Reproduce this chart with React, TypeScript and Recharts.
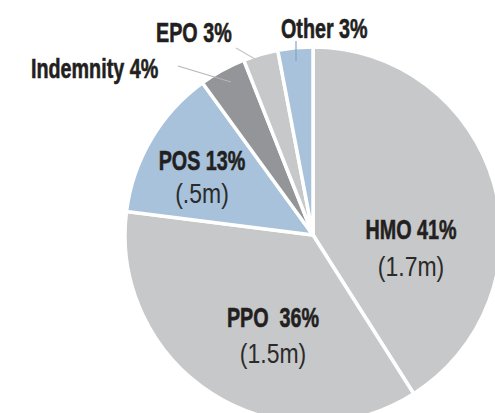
import React from 'react';
import { PieChart, Pie, Cell } from 'recharts';

const categories = ['HMO', 'PPO', 'POS', 'Indemnity', 'EPO', 'Other'];
const shares = [41, 36, 13, 4, 3, 3];
const members = ['1.7', '1.5', '.5', '', '', ''];
const titleSeparators = [' ', '  ', ' ', ' ', ' ', ' '];

const COLORS = ['#c7c8ca', '#c7c8ca', '#a7c2da', '#939598', '#c7c8ca', '#a7c2da'];

const data = categories.map((name, i) => ({
  name,
  value: shares[i],
  members: members[i],
  sep: titleSeparators[i],
}));

// label placement relative to pie centre (px)
type Layout = {
  dx: number;
  dy1: number;
  dy2: number;
  anchor: 'start' | 'middle' | 'end';
  line?: [number, number, number, number];
  lineColor?: string;
};
const LAYOUT: Layout[] = [
  { dx: 98, dy1: 4, dy2: 41, anchor: 'middle' },
  { dx: -40, dy1: 92, dy2: 128, anchor: 'middle' },
  { dx: -111, dy1: -65, dy2: -32, anchor: 'middle' },
  { dx: -282, dy1: -157, dy2: 0, anchor: 'start', line: [-135, -169, -82, -153], lineColor: '#b5b6b8' },
  { dx: -157, dy1: -193, dy2: 0, anchor: 'start', line: [-77, -187, -58, -176], lineColor: '#c4c5c7' },
  { dx: -32, dy1: -197, dy2: 0, anchor: 'start', line: [-17, -194, -17, -174], lineColor: '#7fa6c6' },
];

const FONT = '"Liberation Sans", Arial, sans-serif';
const FONT_SIZE = 28;
const BOLD_SCALE = 0.705;
const REG_SCALE = 0.82;

const renderLabel = (props: any) => {
  const { cx, cy, index, payload } = props;
  const lay = LAYOUT[index];
  const p = payload && payload.payload ? payload.payload : payload;
  const name = p?.name ?? categories[index];
  const sep = p?.sep ?? ' ';
  const mem = p?.members ?? members[index];
  return (
    <g key={`lbl-${index}`}>
      {lay.line && (
        <line
          x1={cx + lay.line[0]}
          y1={cy + lay.line[1]}
          x2={cx + lay.line[2]}
          y2={cy + lay.line[3]}
          stroke={lay.lineColor}
          strokeWidth={1.2}
        />
      )}
      <text
        x={0}
        y={0}
        transform={`translate(${cx + lay.dx},${cy + lay.dy1}) scale(${BOLD_SCALE},1)`}
        textAnchor={lay.anchor}
        fontFamily={FONT}
        fontWeight={700}
        fontSize={FONT_SIZE}
        fill="#231f20"
        stroke="#231f20"
        strokeWidth={0.6}
        style={{ whiteSpace: 'pre' }}
      >
        {`${name}${sep}${shares[index]}%`}
      </text>
      {mem && (
        <text
          x={0}
          y={0}
          transform={`translate(${cx + lay.dx},${cy + lay.dy2}) scale(${REG_SCALE},1)`}
          textAnchor={lay.anchor}
          fontFamily={FONT}
          fontWeight={400}
          fontSize={FONT_SIZE}
          fill="#2b2b2b"
        >
          {`(${mem}m)`}
        </text>
      )}
    </g>
  );
};

export default function App() {
  return (
    <div style={{ position: 'absolute', left: 0, top: 0, width: 495, height: 413, background: '#fff' }}>
      <PieChart width={495} height={413}>
        <Pie
          data={data}
          dataKey="value"
          nameKey="name"
          cx={308}
          cy={230}
          innerRadius={0}
          outerRadius={188}
          startAngle={90}
          endAngle={-270}
          stroke="#ffffff"
          strokeWidth={3.5}
          isAnimationActive={false}
          label={renderLabel}
          labelLine={false}
        >
          {data.map((d, i) => (
            <Cell key={d.name} fill={COLORS[i]} />
          ))}
        </Pie>
      </PieChart>
    </div>
  );
}
